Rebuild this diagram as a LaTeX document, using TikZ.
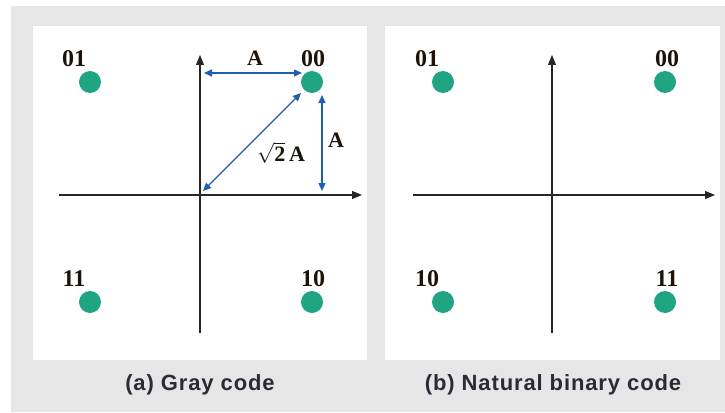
\documentclass[tikz,border=0pt]{standalone}
\usepackage{fontspec}
\setmainfont{Liberation Serif}
\setsansfont{Liberation Sans}
\newfontfamily\capfont[LetterSpace=4]{Liberation Sans}
\usetikzlibrary{arrows.meta}
\definecolor{bggray}{HTML}{E6E6E6}
\definecolor{dotgreen}{HTML}{20A584}
\definecolor{arrblue}{HTML}{1F5FAF}
\definecolor{captxt}{HTML}{2B2B38}
\tikzset{
  axis/.style={line width=1.1pt, black!85, -{Triangle[length=10pt,width=8pt]}},
  dist/.style={line width=1.4pt, arrblue, {Triangle[length=8pt,width=7pt]}-{Triangle[length=8pt,width=7pt]}},
  pt/.style={circle, fill=dotgreen, minimum size=22pt, inner sep=0pt},
  lbl/.style={font=\fontsize{24}{24}\selectfont\bfseries, text=black!85!brown, inner sep=0pt},
  alab/.style={font=\fontsize{22}{22}\selectfont\bfseries, text=black!85!brown, inner sep=0pt},
  captext/.style={font=\capfont\bfseries\fontsize{22}{22}\selectfont, text=captxt, inner sep=0pt}
}
\begin{document}
\begin{tikzpicture}[x=1pt,y=-1pt]
\useasboundingbox (0,0) rectangle (725,412);
\fill[bggray] (11,6) rectangle (725,412);
\fill[white] (33,26) rectangle (367,360);
\fill[white] (385,26) rectangle (720,360);
% panel (a)
\coordinate (axL) at (59,195);
\coordinate (axR) at (362,195);
\coordinate (ayB) at (200,333);
\coordinate (ayT) at (200,55);
\draw[axis] (axL) -- (axR);
\draw[axis] (ayB) -- (ayT);
\node[pt] (a01) at (90,82) {};
\node[pt] (a00) at (312,82) {};
\node[pt] (a11) at (90,302) {};
\node[pt] (a10) at (312,302) {};
\node[lbl] (la01) at (74,59) {01};
\node[lbl] (la00) at (313,59) {00};
\node[lbl] (la11) at (74,279) {11};
\node[lbl] (la10) at (313,279) {10};
\coordinate (h1) at (204,73);
\coordinate (h2) at (302,73);
\coordinate (v1) at (322,95);
\coordinate (v2) at (322,191);
\coordinate (d1) at (203,191);
\coordinate (d2) at (301,93);
\draw[dist] (h1) -- (h2);
\draw[dist] (v1) -- (v2);
\draw[dist] (d1) -- (d2);
\node[alab] (lh) at (255,58) {A};
\node[alab] (lv) at (336,140) {A};
\node[alab] (ld) at (281,153) {$\mathbf{\sqrt{2}}$\,A};
\node[captext] (ca) at (200,385) {(a) Gray code};
% panel (b)
\coordinate (bxL) at (413,195);
\coordinate (bxR) at (715,195);
\coordinate (byB) at (552,333);
\coordinate (byT) at (552,55);
\draw[axis] (bxL) -- (bxR);
\draw[axis] (byB) -- (byT);
\node[pt] (b01) at (443,82) {};
\node[pt] (b00) at (665,82) {};
\node[pt] (b10) at (443,302) {};
\node[pt] (b11) at (665,302) {};
\node[lbl] (lb01) at (427,59) {01};
\node[lbl] (lb00) at (667,59) {00};
\node[lbl] (lb10) at (427,279) {10};
\node[lbl] (lb11) at (667,279) {11};
\node[captext] (cb) at (553,385) {(b) Natural binary code};
\end{tikzpicture}
\end{document}
